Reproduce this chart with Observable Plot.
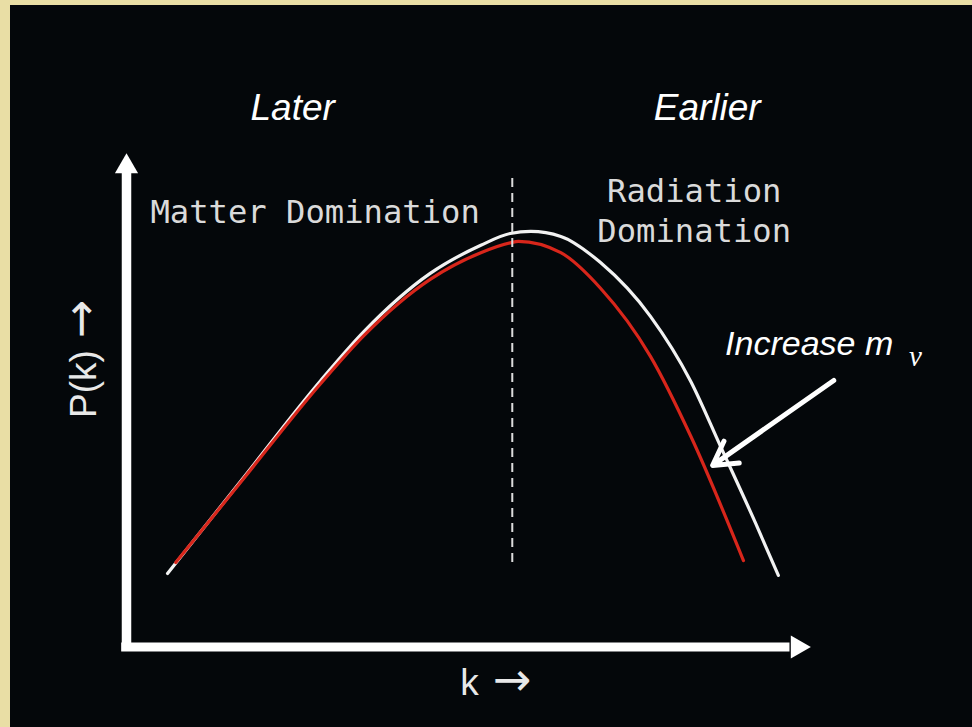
<!DOCTYPE html>
<html>
<head>
<meta charset="utf-8">
<script src="https://cdn.jsdelivr.net/npm/d3@7"></script>
<script src="https://cdn.jsdelivr.net/npm/@observablehq/plot@0.6"></script>
<style>
  html, body { margin: 0; padding: 0; background: #e9dea5; width: 972px; height: 727px; overflow: hidden; }
  #chart { position: absolute; left: 10px; top: 5px; }
  #chart svg { display: block; background: #04070a; }
</style>
</head>
<body>
<div id="chart"></div>
<script>
// Schematic matter power spectrum P(k): massless neutrinos (white) vs. increased neutrino mass (red)
const whiteK = [0.60, 1.71, 2.84, 3.47, 4.44, 5.18, 5.61, 5.91, 6.35, 6.93, 7.66, 8.25, 8.68, 9.20, 9.53];
const whiteP = [1.49, 3.43, 5.40, 6.39, 7.57, 8.14, 8.38, 8.42, 8.32, 7.79, 6.70, 5.38, 4.08, 2.50, 1.45];

const redK = [0.72, 1.71, 2.84, 3.47, 4.44, 5.18, 5.61, 5.73, 6.35, 6.93, 7.66, 8.25, 9.02];
const redP = [1.71, 3.41, 5.34, 6.31, 7.45, 7.99, 8.19, 8.22, 7.99, 7.27, 5.89, 4.27, 1.75];

// Matter–radiation equality marker
const equalityK = 5.64;
const equalityRange = [1.71, 9.61];

// Axis extents (data units)
const axisTop = 10;
const axisRight = 10;

const labels = {
  later: "Later",
  earlier: "Earlier",
  matter: "Matter Domination",
  radiation: "Radiation\nDomination",
  increase: "Increase m",
  nu: "ν",
  yLabel: "P(k)",
  xLabel: "k",
  arrow: "→"
};

const white = whiteK.map((k, i) => ({k, p: whiteP[i]}));
const red = redK.map((k, i) => ({k, p: redP[i]}));

const sans = "'Liberation Sans', Arial, Helvetica, sans-serif";
const mono = "'DejaVu Sans Mono', monospace";
const arrowFont = "'DejaVu Sans', sans-serif";

const chart = Plot.plot({
  width: 962,
  height: 722,
  marginLeft: 116,
  marginRight: 162,
  marginTop: 148,
  marginBottom: 80.5,
  x: {domain: [0, 10], axis: null},
  y: {domain: [0, 10], axis: null},
  style: {background: "#04070a", color: "white"},
  marks: [
    // axes with filled arrowheads
    Plot.ruleX([0], {y1: -0.09, y2: axisTop - 0.3, stroke: "white", strokeWidth: 9.5}),
    Plot.ruleY([0], {x1: -0.07, x2: axisRight - 0.3, stroke: "white", strokeWidth: 9}),
    Plot.dot([0], {x: 0, y: axisTop, symbol: "triangle", r: 8.6, fill: "white", stroke: null, dy: 13}),
    Plot.dot([0], {x: axisRight, y: 0, symbol: "triangle", r: 8.6, fill: "white", stroke: null, rotate: 90, dx: -13}),

    // spectra
    Plot.line(white, {x: "k", y: "p", curve: "monotone-x", stroke: "#f2f2f2", strokeWidth: 3.2}),
    Plot.line(red, {x: "k", y: "p", curve: "monotone-x", stroke: "#d8261b", strokeWidth: 3.2}),

    // equality divider
    Plot.ruleX([equalityK], {y1: equalityRange[0], y2: equalityRange[1], stroke: "#dcdcdc", strokeWidth: 2, strokeDasharray: "9,6"}),

    // era labels
    Plot.text([labels.later], {x: 2.43, y: 10.67, text: d => d, fontFamily: sans, fontStyle: "italic", fontSize: 37, fill: "white", lineAnchor: "bottom"}),
    Plot.text([labels.earlier], {x: 8.49, y: 10.67, text: d => d, fontFamily: sans, fontStyle: "italic", fontSize: 37, fill: "white", lineAnchor: "bottom"}),
    Plot.text([labels.matter], {x: 0.35, y: 8.60, text: d => d, fontFamily: mono, fontSize: 32.2, fill: "#dadada", textAnchor: "start", lineAnchor: "bottom"}),
    Plot.text([labels.radiation], {x: 8.30, y: 8.20, text: d => d, fontFamily: mono, fontSize: 32.2, lineHeight: 1.25, fill: "#dadada", lineAnchor: "bottom"}),

    // neutrino mass annotation
    Plot.text([labels.increase], {x: 11.21, y: 5.91, text: d => d, fontFamily: sans, fontStyle: "italic", fontSize: 34, fill: "white", textAnchor: "end", lineAnchor: "bottom"}),
    Plot.text([labels.nu], {x: 11.44, y: 5.70, text: d => d, fontFamily: "'Liberation Serif', 'Times New Roman', serif", fontStyle: "italic", fontSize: 29, fill: "white", textAnchor: "start", lineAnchor: "bottom"}),
    Plot.arrow([0], {x1: 10.34, y1: 5.40, x2: 8.57, y2: 3.68, stroke: "white", strokeWidth: 5, headLength: 8, headAngle: 60}),

    // axis titles
    Plot.text([labels.yLabel], {x: -0.45, y: 4.64, text: d => d, fontFamily: sans, fontSize: 37, fill: "#e8e8e8", rotate: -90, textAnchor: "start", lineAnchor: "bottom"}),
    Plot.text([labels.arrow], {x: -0.45, y: 6.65, text: d => d, fontFamily: arrowFont, fontSize: 46, fill: "#e8e8e8", rotate: -90, lineAnchor: "bottom"}),
    Plot.text([labels.xLabel], {x: 4.88, y: -0.98, text: d => d, fontFamily: sans, fontSize: 37, fill: "#e8e8e8", textAnchor: "start", lineAnchor: "bottom"}),
    Plot.text([labels.arrow], {x: 5.36, y: -0.98, text: d => d, fontFamily: arrowFont, fontSize: 46, fill: "#e8e8e8", textAnchor: "start", lineAnchor: "bottom"})
  ]
});

document.getElementById("chart").appendChild(chart);
</script>
</body>
</html>
